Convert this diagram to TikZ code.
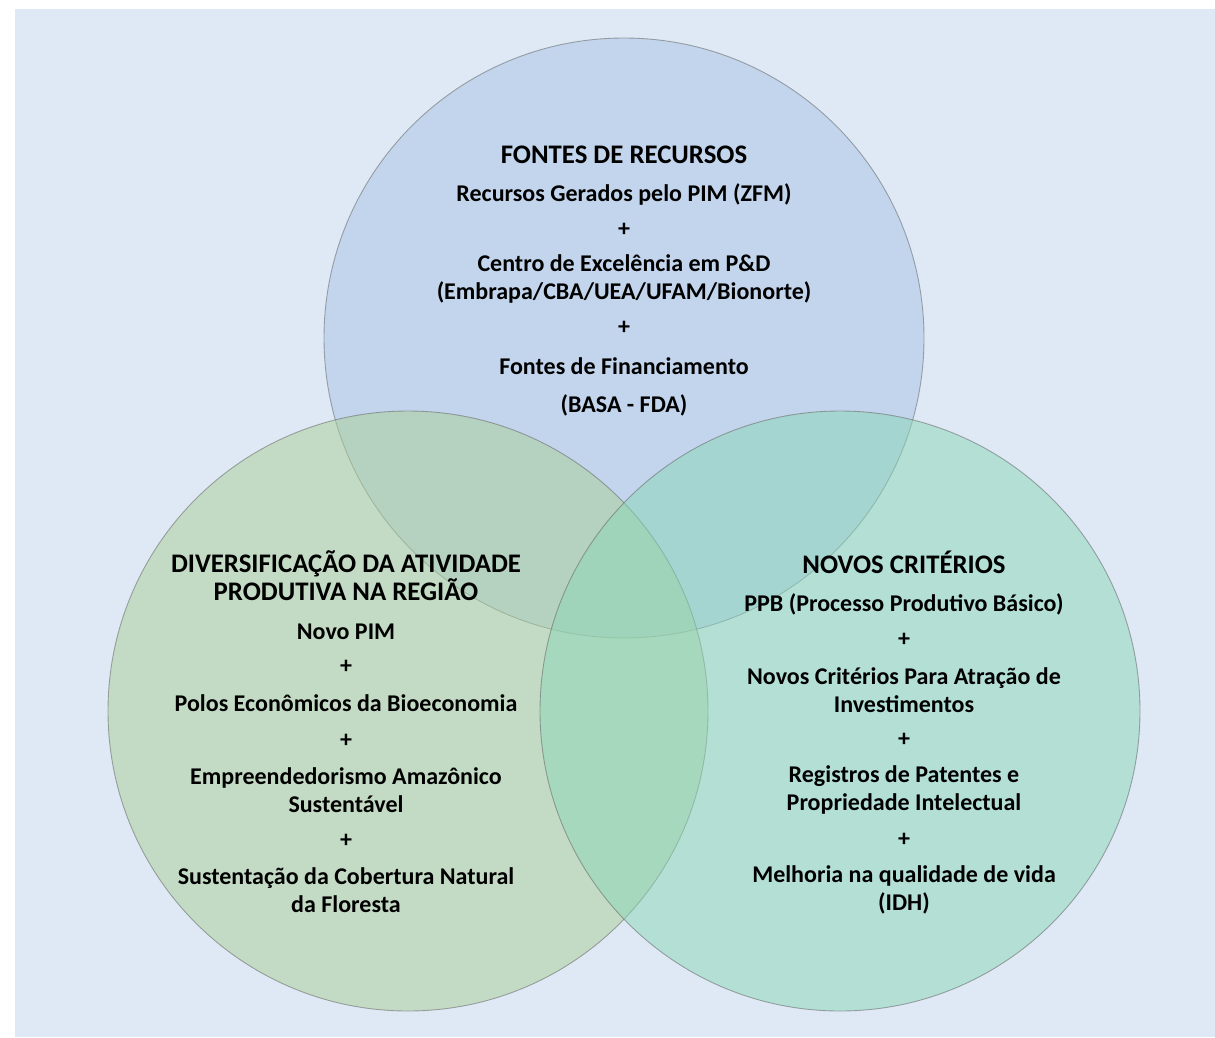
\documentclass[tikz,border=0pt]{standalone}
\usepackage{fontspec}
\setmainfont{Carlito}
\begin{document}
\begin{tikzpicture}[x=1pt,y=-1pt,
  lbl/.style={font=\bfseries\fontsize{24}{27.5}\selectfont, align=center, text=black, inner sep=0pt},
  hdr/.style={lbl, font=\bfseries\fontsize{26.8}{28}\selectfont},
  venn/.style={fill opacity=0.5, draw opacity=0.55, draw=black!60, line width=0.9pt}]
\useasboundingbox (0,0) rectangle (1215,1037);
\fill[white] (0,0) rectangle (1215,1037);
\definecolor{bgc}{RGB}{222,233,245}
\definecolor{cTop}{RGB}{168,194,229}
\definecolor{cLeft}{RGB}{170,207,150}
\definecolor{cRight}{RGB}{138,214,182}
\fill[bgc] (15,9) rectangle (1215,1037);
% circles
\path[venn, fill=cTop] (624,338) circle (300);
\path[venn, fill=cLeft] (408,711) circle (300);
\path[venn, fill=cRight] (840,711) circle (300);
% top texts
\node[hdr] (t0) at (624,155) {FONTES DE RECURSOS};
\node[lbl] (t1) at (624,194) {Recursos Gerados pelo PIM (ZFM)};
\node[lbl] (t2) at (624,230) {+};
\node[lbl] (t3) at (624,279) {Centro de Excelência em P\&D\\(Embrapa/CBA/UEA/UFAM/Bionorte)};
\node[lbl] (t4) at (624,328) {+};
\node[lbl] (t5) at (624,366) {Fontes de Financiamento};
\node[lbl] (t6) at (624,405) {(BASA - FDA)};
% left texts
\node[hdr] (l0) at (346,576) {DIVERSIFICAÇÃO DA ATIVIDADE\\PRODUTIVA NA REGIÃO};
\node[lbl] (l1) at (346,632) {Novo PIM};
\node[lbl] (l2) at (346,667) {+};
\node[lbl] (l3) at (346,703) {Polos Econômicos da Bioeconomia};
\node[lbl] (l4) at (346,741) {+};
\node[lbl] (l5) at (346,790) {Empreendedorismo Amazônico\\Sustentável};
\node[lbl] (l6) at (346,841) {+};
\node[lbl] (l7) at (346,890) {Sustentação da Cobertura Natural\\da Floresta};
% right texts
\node[hdr] (r0) at (904,562) {NOVOS CRITÉRIOS};
\node[lbl] (r1) at (904,604) {PPB (Processo Produtivo Básico)};
\node[lbl] (r2) at (904,640) {+};
\node[lbl] (r3) at (904,690) {Novos Critérios Para Atração de\\Investimentos};
\node[lbl] (r4) at (904,740) {+};
\node[lbl] (r5) at (904,790) {Registros de Patentes e\\Propriedade Intelectual};
\node[lbl] (r6) at (904,840) {+};
\node[lbl] (r7) at (904,890) {Melhoria na qualidade de vida\\(IDH)};
\end{tikzpicture}
\end{document}
